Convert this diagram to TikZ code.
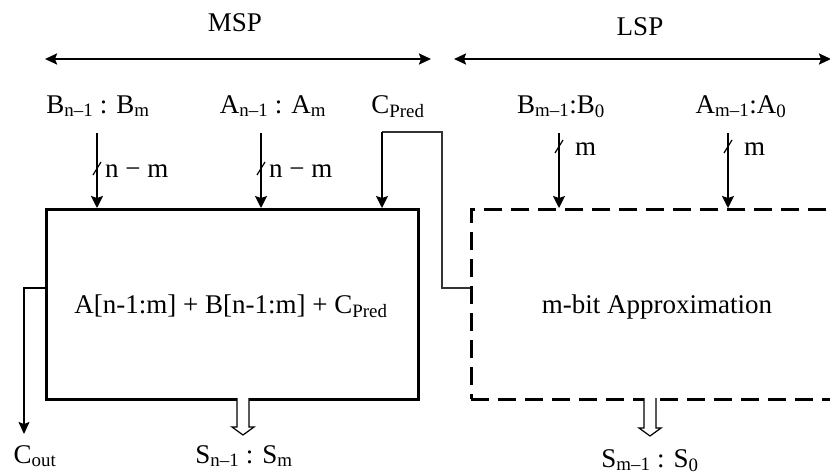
\documentclass[tikz,border=0pt]{standalone}
\usepackage{fontspec}
\setmainfont{Liberation Serif}
\usetikzlibrary{arrows.meta}
\begin{document}
\begin{tikzpicture}[x=1pt,y=-1pt,
  lbl/.style={font=\fontsize{27}{32}\selectfont, inner sep=0pt, anchor=base},
  boxline/.style={line width=2.5pt},
  sig/.style={line width=1.8pt, -{Stealth[length=12pt,width=12pt,inset=2pt]}},
  span/.style={line width=2.2pt, {Stealth[length=12pt,width=11pt,inset=2pt]}-{Stealth[length=12pt,width=11pt,inset=2pt]}},
  wire/.style={line width=1.3pt, black!80},
  tick/.style={line width=1.2pt},
  hollow/.style={line width=1.2pt, fill=white}]
\useasboundingbox (0,0) rectangle (830,474);

% header
\node[lbl] (msp) at (235,31) {MSP};
\node[lbl] (lsp) at (640,35) {LSP};
\coordinate (ms1) at (45,59);
\coordinate (ms2) at (431,59);
\coordinate (ls1) at (454,59);
\coordinate (ls2) at (831,59);
\draw[span] (ms1) -- (ms2);
\draw[span] (ls1) -- (ls2);

% input labels
\node[lbl] (bin) at (98,113) {B\textsubscript{n–1} : B\textsubscript{m}};
\node[lbl] (ain) at (273,113) {A\textsubscript{n–1} : A\textsubscript{m}};
\node[lbl] (cpl) at (398,113) {C\textsubscript{Pred}};
\node[lbl] (blo) at (561,113) {B\textsubscript{m–1}:B\textsubscript{0}};
\node[lbl] (alo) at (741,113) {A\textsubscript{m–1}:A\textsubscript{0}};

% boxes
\node[draw, boxline, minimum width=372pt, minimum height=190pt, anchor=north west, inner sep=0pt] (msb) at (45,208) {};
\node[draw, boxline, dash pattern=on 18pt off 9pt, minimum width=420pt, minimum height=190pt, anchor=north west, inner sep=0pt] (lsb) at (470,208) {};
\node[lbl] (msbt) at (231,313) {A[n-1:m] + B[n-1:m] + C\textsubscript{Pred}};
\node[lbl] (lsbt) at (657,313) {m-bit Approximation};

% input arrows
\coordinate (bs) at (97,133);
\coordinate (as) at (261,133);
\coordinate (bls) at (559,133);
\coordinate (als) at (728,133);
\draw[sig] (bs) -- (bs |- msb.north);
\draw[sig] (as) -- (as |- msb.north);
\draw[sig] (bls) -- (bls |- lsb.north);
\draw[sig] (als) -- (als |- lsb.north);

% bus ticks and widths
\draw[tick] (93,175) -- (101,162);
\draw[tick] (257,175) -- (265,162);
\draw[tick] (555,153) -- (563,140);
\draw[tick] (724,153) -- (732,140);
\node[lbl, anchor=base west] (w1) at (105,177) {n − m};
\node[lbl, anchor=base west] (w2) at (269,177) {n − m};
\node[lbl, anchor=base west] (w3) at (575,155) {m};
\node[lbl, anchor=base west] (w4) at (744,155) {m};

% carry prediction connector
\coordinate (cpo) at (470,288);
\coordinate (cpt) at (382,132);
\draw[wire] (cpo) -- (442,288) |- (cpt);
\draw[line width=1.4pt, -{Stealth[length=12pt,width=12pt,inset=2pt]}] (cpt) -- (cpt |- msb.north);

% carry out
\coordinate (coo) at (45,288);
\coordinate (cot) at (24,434);
\draw[wire, black, -{Stealth[length=12pt,width=11pt,inset=2pt]}] (coo) -| (cot);
\node[lbl] (cout) at (35,463) {C\textsubscript{out}};

% sum outputs (hollow arrows)
\draw[hollow] (237,398) -- (237,427) -- (232,427) -- (243,435) -- (254,427) -- (249,427) -- (249,398);
\draw[hollow] (644,398) -- (644,428) -- (639,428) -- (650,436) -- (661,428) -- (656,428) -- (656,398);
\node[lbl] (shi) at (244,463) {S\textsubscript{n–1} : S\textsubscript{m}};
\node[lbl] (slo) at (650,467) {S\textsubscript{m–1} : S\textsubscript{0}};
\end{tikzpicture}
\end{document}
